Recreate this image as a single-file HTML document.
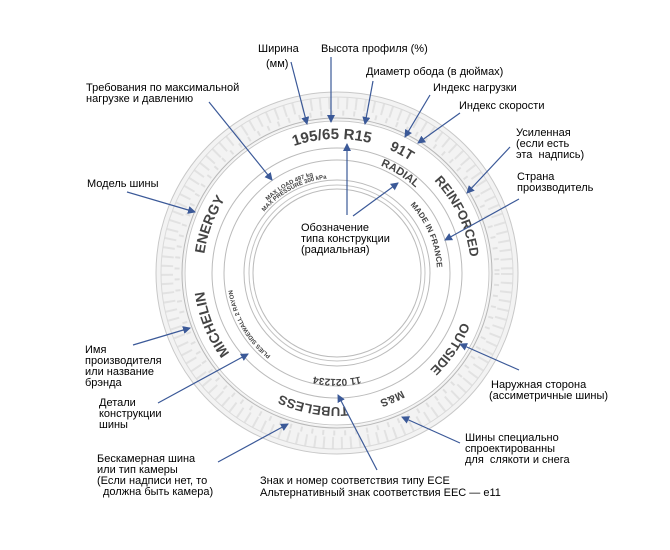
<!DOCTYPE html>
<html><head><meta charset="utf-8"><style>
html,body{margin:0;padding:0;background:#fff;}
svg{display:block;}
.l{font-family:"Liberation Sans",sans-serif;font-size:11px;fill:#000;}
.t{font-family:"Liberation Sans",sans-serif;font-weight:bold;fill:#444;}
.a{stroke:#3b5998;stroke-width:1.2;fill:none;marker-end:url(#ah);}
</style></head><body>
<svg width="670" height="550" viewBox="0 0 670 550" xmlns="http://www.w3.org/2000/svg">
<defs>
<marker id="ah" markerWidth="8" markerHeight="8" refX="7" refY="4" orient="auto" markerUnits="userSpaceOnUse">
<path d="M0,0 L8,4 L0,8 z" fill="#3b5998"/></marker>
<path id="c134" d="M471,273 A134,134 0 1,1 203,273 A134,134 0 1,1 471,273 A134,134 0 1,1 203,273 A134,134 0 1,1 471,273"/>
<path id="c116" d="M453,273 A116,116 0 1,1 221,273 A116,116 0 1,1 453,273 A116,116 0 1,1 221,273 A116,116 0 1,1 453,273"/>
<path id="c100" d="M437,273 A100,100 0 1,1 237,273 A100,100 0 1,1 437,273 A100,100 0 1,1 237,273 A100,100 0 1,1 437,273"/>
<path id="c106" d="M443,273 A106,106 0 1,1 231,273 A106,106 0 1,1 443,273 A106,106 0 1,1 231,273 A106,106 0 1,1 443,273"/>
<path id="c95" d="M432,273 A95,95 0 1,1 242,273 A95,95 0 1,1 432,273 A95,95 0 1,1 242,273 A95,95 0 1,1 432,273"/>
</defs>
<g transform="translate(337,273)" fill="none">
<circle r="167" stroke="#f3f3f3" stroke-width="28"/>
<circle r="170" stroke="#e2e2e2" stroke-width="12" stroke-dasharray="2 7"/>
<circle r="160" stroke="#e0e0e0" stroke-width="5" stroke-dasharray="2 9"/>
<circle r="181" stroke="#c8c8c8" stroke-width="1"/>
<circle r="176" stroke="#dadada" stroke-width="1"/>
<circle r="155" stroke="#b8b8b8" stroke-width="1"/>
<circle r="152" stroke="#c8c8c8" stroke-width="1"/>
<circle r="125" stroke="#bbb" stroke-width="1"/>
<circle r="113" stroke="#bbb" stroke-width="1"/>
<circle r="93" stroke="#bbb" stroke-width="1"/>
<circle r="88" stroke="#c4c4c4" stroke-width="1"/>
<circle r="84" stroke="#bbb" stroke-width="1"/>
</g>
<text class="t" font-size="15"><textPath href="#c134" startOffset="37.2%" text-anchor="middle">195/65 R15</textPath></text>
<text class="t" font-size="14"><textPath href="#c134" startOffset="41.4%" text-anchor="middle">91T</textPath></text>
<text class="t" font-size="13"><textPath href="#c134" startOffset="46.5%" text-anchor="middle">REINFORCED</textPath></text>
<text class="t" font-size="13"><textPath href="#c134" startOffset="54.7%" text-anchor="middle">OUTSIDE</textPath></text>
<text class="t" font-size="11"><textPath href="#c134" startOffset="59.2%" text-anchor="middle">M&amp;S</textPath></text>
<text class="t" font-size="13"><textPath href="#c134" startOffset="13.9%" text-anchor="middle">TUBELESS</textPath></text>
<text class="t" font-size="14"><textPath href="#c134" startOffset="21.9%" text-anchor="middle">MICHELIN</textPath></text>
<text class="t" font-size="14"><textPath href="#c134" startOffset="27.9%" text-anchor="middle">ENERGY</textPath></text>
<text class="t" font-size="11"><textPath href="#c116" startOffset="42%" text-anchor="middle">RADIAL</textPath></text>
<text class="t" font-size="8"><textPath href="#c100" startOffset="46.8%" text-anchor="middle">MADE IN FRANCE</textPath></text>
<text class="t" font-size="10"><textPath href="#c106" startOffset="12.5%" text-anchor="middle">11 021234</textPath></text>
<text class="t" font-size="6"><textPath href="#c100" startOffset="33.5%" text-anchor="middle">MAX LOAD 497 kg</textPath></text>
<text class="t" font-size="6"><textPath href="#c95" startOffset="33.6%" text-anchor="middle">MAX PRESSURE 300 kPa</textPath></text>
<text class="t" font-size="6"><textPath href="#c106" startOffset="20.8%" text-anchor="middle">PLIES SIDEWALL 2 RAYON</textPath></text>
<line class="a" x1="291" y1="62" x2="307" y2="124"/>
<line class="a" x1="331" y1="57" x2="331" y2="122"/>
<line class="a" x1="373" y1="81" x2="365" y2="124"/>
<line class="a" x1="430" y1="95" x2="405" y2="137"/>
<line class="a" x1="460" y1="113" x2="418" y2="143"/>
<line class="a" x1="510" y1="147" x2="467" y2="193"/>
<line class="a" x1="519" y1="199" x2="445" y2="240"/>
<line class="a" x1="209" y1="102" x2="272" y2="180"/>
<line class="a" x1="127" y1="192" x2="195" y2="212"/>
<line class="a" x1="353" y1="216" x2="398" y2="183"/>
<line class="a" x1="347" y1="215" x2="347" y2="144"/>
<line class="a" x1="133" y1="345" x2="190" y2="328"/>
<line class="a" x1="158" y1="403" x2="248" y2="354"/>
<line class="a" x1="519" y1="370" x2="460" y2="344"/>
<line class="a" x1="460" y1="443" x2="402" y2="417"/>
<line class="a" x1="218" y1="462" x2="288" y2="424"/>
<line class="a" x1="377" y1="470" x2="338" y2="395"/>
<text class="l" x="258" y="52">Ширина</text>
<text class="l" x="266" y="67">(мм)</text>
<text class="l" x="321" y="52">Высота профиля (%)</text>
<text class="l" x="366" y="75">Диаметр обода (в дюймах)</text>
<text class="l" x="433" y="91">Индекс нагрузки</text>
<text class="l" x="459" y="109">Индекс скорости</text>
<text class="l" x="516" y="136">Усиленная</text>
<text class="l" x="516" y="147">(если есть</text>
<text class="l" x="516" y="158">эта&#160; надпись)</text>
<text class="l" x="517" y="180">Страна</text>
<text class="l" x="517" y="191">производитель</text>
<text class="l" x="86" y="91">Требования по максимальной</text>
<text class="l" x="86" y="102">нагрузке и давлению</text>
<text class="l" x="87" y="187">Модель шины</text>
<text class="l" x="85" y="353">Имя</text>
<text class="l" x="85" y="364">производителя</text>
<text class="l" x="85" y="375">или название</text>
<text class="l" x="85" y="386">брэнда</text>
<text class="l" x="99" y="406">Детали</text>
<text class="l" x="99" y="417">конструкции</text>
<text class="l" x="99" y="428">шины</text>
<text class="l" x="97" y="462">Бескамерная шина</text>
<text class="l" x="97" y="473">или тип камеры</text>
<text class="l" x="97" y="484">(Если надписи нет, то</text>
<text class="l" x="103" y="495">должна быть камера)</text>
<text class="l" x="260" y="484">Знак и номер соответствия типу ECE</text>
<text class="l" x="260" y="496">Альтернативный знак соответствия EEC — e11</text>
<text class="l" x="301" y="231">Обозначение</text>
<text class="l" x="301" y="242">типа конструкции</text>
<text class="l" x="301" y="253">(радиальная)</text>
<text class="l" x="491" y="388">Наружная сторона</text>
<text class="l" x="489" y="399">(ассиметричные шины)</text>
<text class="l" x="465" y="441">Шины специально</text>
<text class="l" x="465" y="452">спроектированны</text>
<text class="l" x="465" y="463">для&#160; слякоти и снега</text>
</svg>
</body></html>
